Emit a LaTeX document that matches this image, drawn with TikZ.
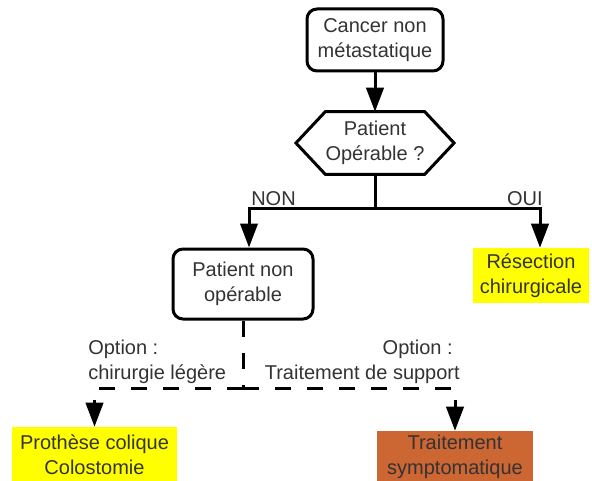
\documentclass[tikz,border=0pt]{standalone}
\usepackage{fontspec}
\setmainfont{Liberation Sans}
\usetikzlibrary{arrows.meta}
\definecolor{txtgray}{HTML}{333333}
\definecolor{jaune}{HTML}{FFFF00}
\definecolor{brique}{HTML}{CC6633}
\tikzset{
  boite/.style={draw, line width=2.25pt, rounded corners=7.5pt, align=center, inner sep=0pt},
  fond/.style={align=center, inner sep=0pt},
  fleche/.style={-{Triangle[length=18pt,width=13pt]}},
  lien/.style={line width=2.25pt},
  option/.style={line width=2.25pt, dash pattern=on 12pt off 12pt},
}
\begin{document}
\begin{tikzpicture}[x=0.75pt, y=-0.75pt, font=\fontsize{15}{18.5}\selectfont, text=txtgray]
    \useasboundingbox (0,0) rectangle (592,481);
    % boites
    \node[boite, minimum width=102pt, minimum height=46.5pt] (cancer) at (375,40) {Cancer non\\métastatique};
    \node[minimum width=67.5pt, minimum height=46.5pt, align=center, inner sep=0pt] (operable) at (375,143) {Patient\\Opérable ?};
    \draw[lien] ([xshift=-22pt]operable.west) -- (operable.north west) -- (operable.north east)
        -- ([xshift=22pt]operable.east) -- (operable.south east) -- (operable.south west) -- cycle;
    \node[boite, minimum width=105pt, minimum height=52.5pt] (nonop) at (243,284) {Patient non\\opérable};
    \node[fond, fill=jaune, minimum width=87pt, minimum height=41.25pt] (resection) at (531,275.5) {Résection\\chirurgicale};
    \node[fond, fill=jaune, minimum width=123.75pt, minimum height=42pt] (prothese) at (94.5,455) {Prothèse colique\\Colostomie};
    \node[fond, fill=brique, minimum width=117pt, minimum height=39pt] (sympto) at (455,457) {Traitement\\symptomatique};
    % liens
    \coordinate (fourche) at (375,208);
    \coordinate (choix) at (243,388);
    \draw[lien, fleche] (cancer) -- (operable);
    \draw[lien] (operable) -- (fourche);
    \draw[lien, fleche] (fourche) -| ([xshift=4.5pt]nonop.north);
    \draw[lien, fleche] (fourche) -| ([xshift=6.75pt]resection.north);
    \draw[option] (nonop) -- (choix);
    \draw[option, fleche] (choix) -| (prothese.north);
    \draw[option, fleche] (choix) -| (sympto.north);
    % etiquettes
    \node[anchor=base west, inner sep=0pt] (non) at (251,205) {NON};
    \node[anchor=base east, inner sep=0pt] (oui) at (543,205) {OUI};
    \node[anchor=west, align=left, inner sep=0pt] (legere) at (88,362) {Option :\\chirurgie légère};
    \node[anchor=east, align=right, inner sep=0pt] (support) at (460,362) {Option :\hspace*{5.25pt}\\Traitement de support};
\end{tikzpicture}
\end{document}
